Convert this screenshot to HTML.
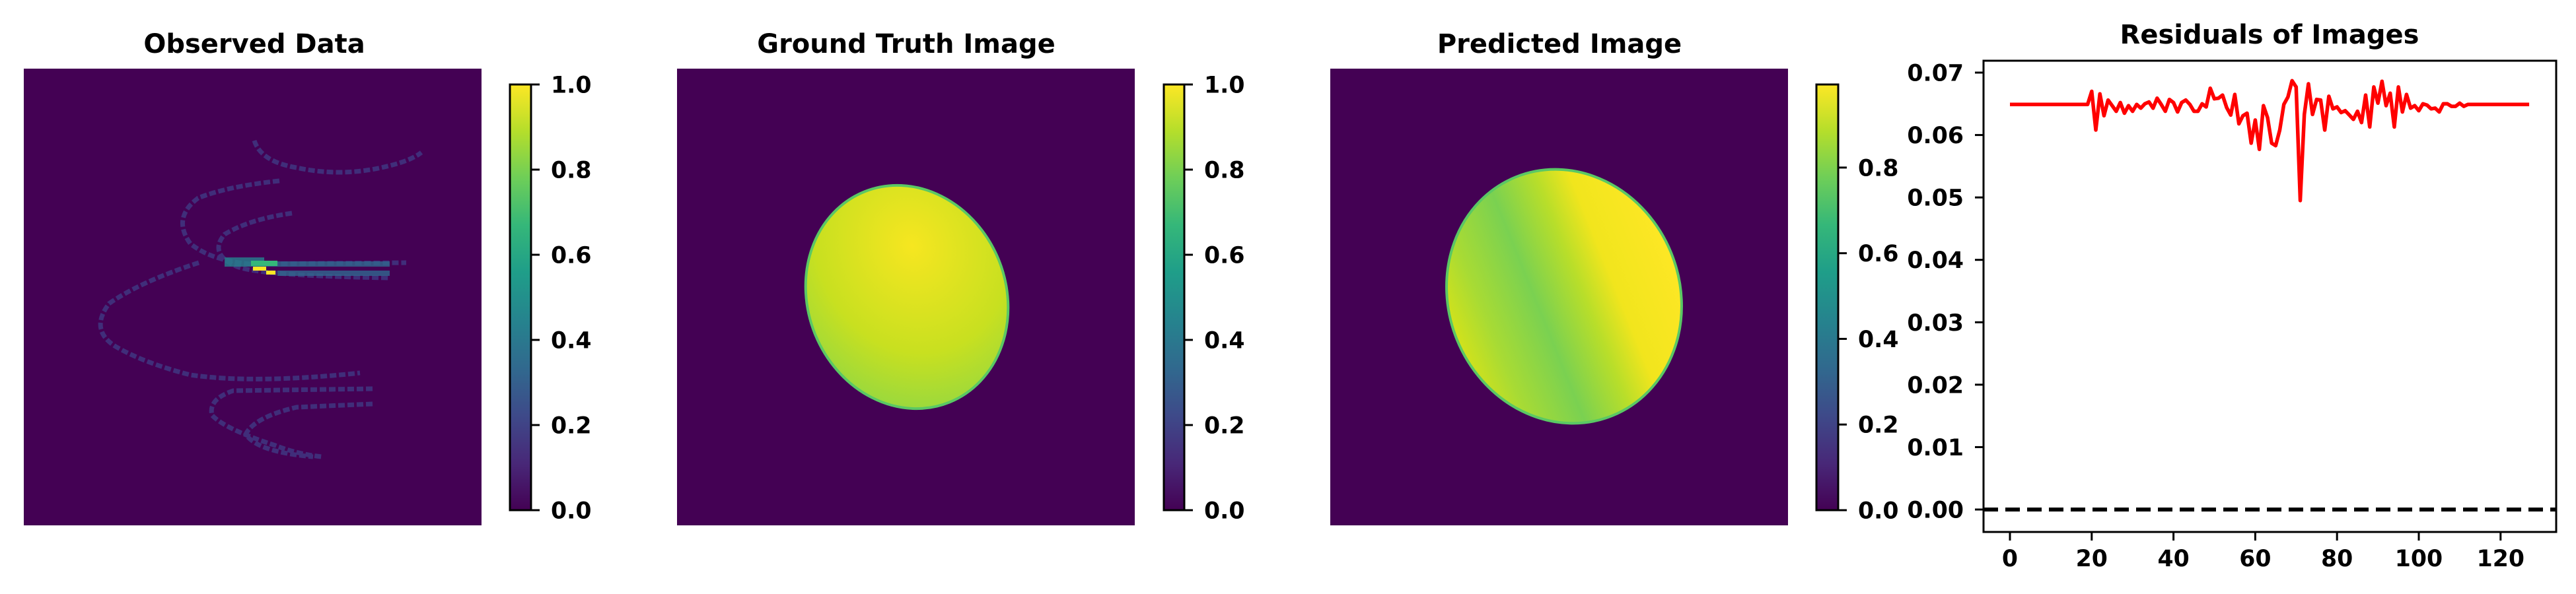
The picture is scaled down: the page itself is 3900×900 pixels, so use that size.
<!DOCTYPE html>
<html><head><meta charset="utf-8"><style>
html,body{margin:0;padding:0;background:#fff;}
svg{display:block;font-family:"DejaVu Sans","Liberation Sans",sans-serif;font-weight:bold;}
</style></head><body>
<svg id="fig" width="3900" height="900" viewBox="0 0 3900 900" xmlns="http://www.w3.org/2000/svg">
<defs>
<linearGradient id="viridis" x1="0" y1="1" x2="0" y2="0">
<stop offset="0" stop-color="#440154"/><stop offset="0.11" stop-color="#482878"/><stop offset="0.22" stop-color="#3e4989"/><stop offset="0.33" stop-color="#31688e"/><stop offset="0.44" stop-color="#26828e"/><stop offset="0.56" stop-color="#1f9e89"/><stop offset="0.67" stop-color="#35b779"/><stop offset="0.78" stop-color="#6ece58"/><stop offset="0.89" stop-color="#b5de2b"/><stop offset="1" stop-color="#fde725"/>
</linearGradient>
<radialGradient id="gtfill" cx="0.62" cy="0.3" r="0.8">
<stop offset="0" stop-color="#f6e620"/><stop offset="0.6" stop-color="#c8e020"/><stop offset="1" stop-color="#8fd744"/>
</radialGradient>
<linearGradient id="predfill" x1="0" y1="0" x2="1" y2="0">
<stop offset="0" stop-color="#d2e21b"/><stop offset="0.15" stop-color="#a8db34"/><stop offset="0.38" stop-color="#7ad151"/><stop offset="0.58" stop-color="#b8de2a"/><stop offset="0.72" stop-color="#f1e51d"/><stop offset="1" stop-color="#fde725"/>
</linearGradient>
</defs>

<!-- Panel 1 -->
<text x="385" y="80" font-size="40" text-anchor="middle">Observed Data</text>
<rect x="36" y="104" width="693" height="692" fill="#440154"/>
<g fill="none" stroke="#3f3d87" stroke-width="7" stroke-dasharray="10 4" opacity="0.75">
<path d="M385,213 Q395,245 449,254 Q513,268 577,254 Q620,245 638,231"/>
<path d="M423,274 Q346,282 300,300 Q260,330 288,369 Q320,395 380,400 L615,398"/>
<path d="M442,323 Q378,332 340,355 Q315,385 359,404 Q397,418 590,421"/>
<path d="M301,398 Q212,427 165,460 Q135,500 175,525 Q218,550 288,568 Q385,582 545,565"/>
<path d="M564,589 L353,592 Q315,605 321,629 Q340,650 417,675 Q450,688 487,692"/>
<path d="M564,612 L449,617 Q385,632 372,658 Q390,685 474,692"/>
</g>
<g>
<rect x="340" y="390" width="60" height="14" fill="#26828e" opacity="0.8"/>
<rect x="400" y="396" width="190" height="8" fill="#31688e" opacity="0.8"/>
<rect x="420" y="410" width="170" height="8" fill="#31688e" opacity="0.8"/>
<rect x="380" y="395" width="40" height="8" fill="#35b779"/>
<rect x="383" y="404" width="20" height="6" fill="#fde725"/>
<rect x="403" y="410" width="14" height="6" fill="#fde725"/>
</g>
<rect x="772" y="128" width="32" height="645" fill="url(#viridis)" stroke="#000" stroke-width="3"/>
<g id="cb1"></g>

<!-- Panel 2 -->
<text x="1372" y="80" font-size="40" text-anchor="middle">Ground Truth Image</text>
<rect x="1025" y="104" width="693" height="692" fill="#440154"/>
<ellipse cx="1373" cy="450" rx="150" ry="172" transform="rotate(-22 1373 450)" fill="url(#gtfill)" stroke="#5ac864" stroke-width="4"/>
<rect x="1762" y="128" width="31" height="645" fill="url(#viridis)" stroke="#000" stroke-width="3"/>
<g id="cb2"></g>

<!-- Panel 3 -->
<text x="2361" y="80" font-size="40" text-anchor="middle">Predicted Image</text>
<rect x="2014" y="104" width="693" height="692" fill="#440154"/>
<g transform="rotate(-22 2368 449)">
<ellipse cx="2368" cy="449" rx="175" ry="195" fill="url(#predfill)" stroke="#5ac864" stroke-width="4"/>
</g>
<rect x="2750" y="128" width="33" height="645" fill="url(#viridis)" stroke="#000" stroke-width="3"/>
<g id="cb3"></g>

<!-- Panel 4 -->
<text x="3436" y="66" font-size="40" text-anchor="middle">Residuals of Images</text>
<g id="resid"></g>
<rect x="3003" y="92" width="867" height="714" fill="none" stroke="#000" stroke-width="3"/>
</svg>
<script>
const NS = "http://www.w3.org/2000/svg";
const cbTicks12 = [0.0, 0.2, 0.4, 0.6, 0.8, 1.0];
const cbTicks3 = [0.0, 0.2, 0.4, 0.6, 0.8];
const cbMax3 = 0.994;
const resX = [];
const resY = [
0.0649,0.0649,0.0649,0.0649,0.0649,0.0649,0.0649,0.0649,0.0649,0.0649,
0.0649,0.0649,0.0649,0.0649,0.0649,0.0649,0.0649,0.0649,0.0649,0.0649,
0.0670,0.0608,0.0666,0.0631,0.0656,0.0647,0.0638,0.0652,0.0635,0.0647,
0.0638,0.0649,0.0643,0.0650,0.0653,0.0643,0.0659,0.0649,0.0638,0.0657,
0.0652,0.0637,0.0652,0.0656,0.0649,0.0638,0.0638,0.0650,0.0645,0.0675,
0.0658,0.0659,0.0664,0.0644,0.0632,0.0665,0.0618,0.0631,0.0635,0.0587,
0.0624,0.0577,0.0647,0.0628,0.0587,0.0583,0.0608,0.0649,0.0661,0.0687,
0.0677,0.0495,0.0633,0.0682,0.0633,0.0657,0.0656,0.0608,0.0662,0.0642,
0.0645,0.0636,0.0639,0.0632,0.0625,0.0638,0.0620,0.0664,0.0613,0.0677,
0.0651,0.0686,0.0647,0.0667,0.0613,0.0677,0.0637,0.0665,0.0643,0.0647,
0.0639,0.0650,0.0648,0.0642,0.0643,0.0637,0.0650,0.0650,0.0646,0.0646,
0.0651,0.0646,0.0649,0.0649,0.0649,0.0649,0.0649,0.0649,0.0649,0.0649,
0.0649,0.0649,0.0649,0.0649,0.0649,0.0649,0.0649,0.0649];
for (let i = 0; i < resY.length; i++) resX.push(i);
const xTicks = [0, 20, 40, 60, 80, 100, 120];
const yTicks = [0.00, 0.01, 0.02, 0.03, 0.04, 0.05, 0.06, 0.07];
const refLine = [0.0];

function el(tag, attrs, parent) {
  const e = document.createElementNS(NS, tag);
  for (const k in attrs) e.setAttribute(k, attrs[k]);
  parent.appendChild(e);
  return e;
}
function colorbar(gid, barRight, top, bottom, vmax, ticks) {
  const g = document.getElementById(gid);
  const y = v => bottom - (v / vmax) * (bottom - top);
  ticks.forEach(t => {
    const l = el('line', {x1: barRight, x2: barRight + 13, y1: y(t), y2: y(t), stroke: '#000', 'stroke-width': 3}, g);
    
    
    const tx = el('text', {x: barRight + 30, y: y(t) + 12.5, 'font-size': 34.7}, g);
    tx.textContent = t.toFixed(1);
    
    
  });
}
colorbar('cb1', 804, 128, 773, 1.0, cbTicks12);
colorbar('cb2', 1793, 128, 773, 1.0, cbTicks12);
colorbar('cb3', 2783, 128, 773, cbMax3, cbTicks3);

const g = document.getElementById('resid');
const sx = v => 3043 + v * 6.19;
const sy = v => 772 - v * 9457;
yTicks.forEach(t => {
  const l = el('line', {x1: 2990, x2: 3003, y1: sy(t), y2: sy(t), stroke: '#000', 'stroke-width': 3}, g);
  
  
  const tx = el('text', {x: 2973, y: sy(t) + 12.5, 'font-size': 34.7, 'text-anchor': 'end'}, g);
  tx.textContent = t.toFixed(2);
  
  
});
xTicks.forEach(t => {
  const l = el('line', {x1: sx(t), x2: sx(t), y1: 806, y2: 819, stroke: '#000', 'stroke-width': 3}, g);
  
  
  const tx = el('text', {x: sx(t), y: 858, 'font-size': 34.7, 'text-anchor': 'middle'}, g);
  tx.textContent = String(t);
  
  
});
refLine.forEach(v => {
  const l = el('line', {x1: 3003, x2: 3870, y1: sy(v), y2: sy(v), stroke: '#000', 'stroke-width': 6, 'stroke-dasharray': '22 11'}, g);
  
  
});
const pts = resX.map((x, i) => sx(x).toFixed(1) + ',' + sy(resY[i]).toFixed(1)).join(' ');
const pl = el('polyline', {points: pts, fill: 'none', stroke: '#ff0000', 'stroke-width': 5.5, 'stroke-linejoin': 'round'}, g);


</script>
</body></html>
